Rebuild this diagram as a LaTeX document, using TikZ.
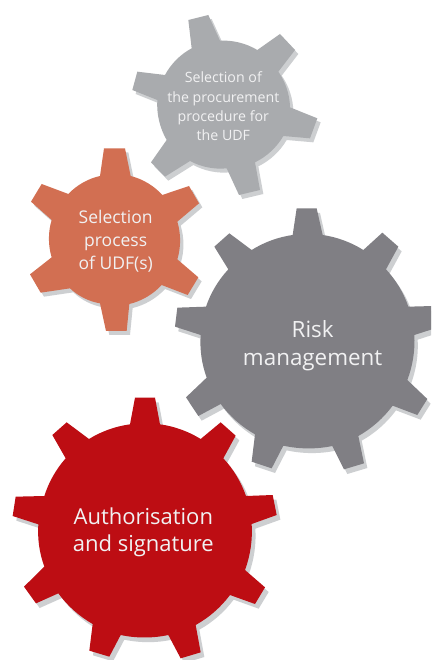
\documentclass[tikz,border=0pt]{standalone}
\usepackage{fontspec}
\setmainfont{Open Sans}
\definecolor{gearA}{HTML}{A9ABAE}
\definecolor{gearB}{HTML}{D26F52}
\definecolor{gearC}{HTML}{807F84}
\definecolor{gearD}{HTML}{BD0D13}
\definecolor{gearShadow}{HTML}{CDCFD1}
\definecolor{gearText}{HTML}{F1F1F2}
\tikzset{
  small gap/.style={bend left=17,looseness=.86},
  big gap/.style={bend left=12,looseness=.86},
  shadowfill/.style={fill=gearShadow},
  gearlabel/.style={text=gearText,align=center,inner sep=0pt},
  zoomed/.style={x=.33333pt,y=-.33333pt}
}
\newcommand\pathA{(205,60) -- (265,45) -- (300,122) to[small gap] (412,150) -- (480,102) -- (525,150) -- (475,215) to[small gap] (510,322) -- (592,355) -- (570,415) -- (490,408) to[small gap] (405,487) -- (420,570) -- (357,585) -- (320,505) to[small gap] (210,483) -- (135,530) -- (93,487) -- (140,420) to[small gap] (112,300) -- (37,270) -- (52,215) -- (135,225) to[small gap] (215,145) -- cycle}
\newcommand\pathB{(252,25) -- (315,25) -- (332,108) to[small gap] (427,165) -- (507,138) -- (537,190) -- (472,245) to[small gap] (472,358) -- (535,412) -- (503,465) -- (425,435) to[small gap] (328,492) -- (320,573) -- (258,573) -- (240,490) to[small gap] (150,445) -- (62,458) -- (30,403) -- (95,352) to[small gap] (95,240) -- (33,185) -- (65,132) -- (145,162) to[small gap] (240,108) -- cycle}
\newcommand\pathC{(380,25) -- (440,25) -- (458,105) to[big gap] (580,150) -- (637,98) -- (685,140) -- (648,208) to[big gap] (715,320) -- (790,318) -- (795,385) -- (733,405) to[big gap] (712,540) -- (772,597) -- (742,645) -- (668,617) to[big gap] (565,708) -- (582,790) -- (522,808) -- (487,738) to[big gap] (340,737) -- (305,805) -- (245,785) -- (255,703) to[big gap] (152,612) -- (85,648) -- (48,592) -- (110,533) to[big gap] (92,405) -- (15,380) -- (22,323) -- (108,320) to[big gap] (175,208) -- (133,140) -- (178,100) -- (245,150) to[big gap] (368,105) -- cycle}
\newcommand\pathD{(405,23) -- (465,23) -- (480,103) to[big gap] (602,147) -- (662,97) -- (707,137) -- (670,205) to[big gap] (738,318) -- (818,315) -- (830,375) -- (755,402) to[big gap] (735,540) -- (795,592) -- (765,642) -- (690,615) to[big gap] (587,705) -- (602,787) -- (542,805) -- (505,735) to[big gap] (362,735) -- (328,800) -- (268,782) -- (278,702) to[big gap] (175,610) -- (108,640) -- (72,590) -- (133,530) to[big gap] (115,403) -- (38,378) -- (47,320) -- (133,318) to[big gap] (197,205) -- (157,135) -- (200,97) -- (267,147) to[big gap] (390,103) -- cycle}
\begin{document}
\begin{tikzpicture}[x=1pt,y=-1pt]
\useasboundingbox (0,0) rectangle (431,660);
\clip (0,0) rectangle (431,660);
\fill[white] (0,0) rectangle (431,660);
\begin{scope}[shift={(120,0)},zoomed]
  \fill[shadowfill,shift={(10,12)}] \pathA;
  \fill[gearA] \pathA;
  \node[gearlabel,font=\fontsize{14.2}{19.3}\selectfont] (procurement) at (310,319) {Selection of\\the procurement\\procedure for\\the UDF};
\end{scope}
\begin{scope}[shift={(20,140)},zoomed]
  \fill[shadowfill,shift={(10,12)}] \pathB;
  \fill[gearB] \pathB;
  \node[gearlabel,font=\fontsize{17.5}{23.2}\selectfont] (selection) at (287,303) {Selection\\process\\of UDF(s)};
\end{scope}
\begin{scope}[shift={(170,200)},zoomed]
  \fill[shadowfill,shift={(10,14)}] \pathC;
  \fill[gearC] \pathC;
  \node[gearlabel,font=\fontsize{22.4}{27.7}\selectfont] (risk) at (428,436) {Risk\\management};
\end{scope}
\begin{scope}[shift={(0,390)},zoomed]
  \fill[shadowfill,shift={(11,14)}] \pathD;
  \fill[gearD] \pathD;
  \node[gearlabel,font=\fontsize{22}{27.7}\selectfont] (auth) at (430,427) {Authorisation\\and signature};
\end{scope}
\end{tikzpicture}
\end{document}
